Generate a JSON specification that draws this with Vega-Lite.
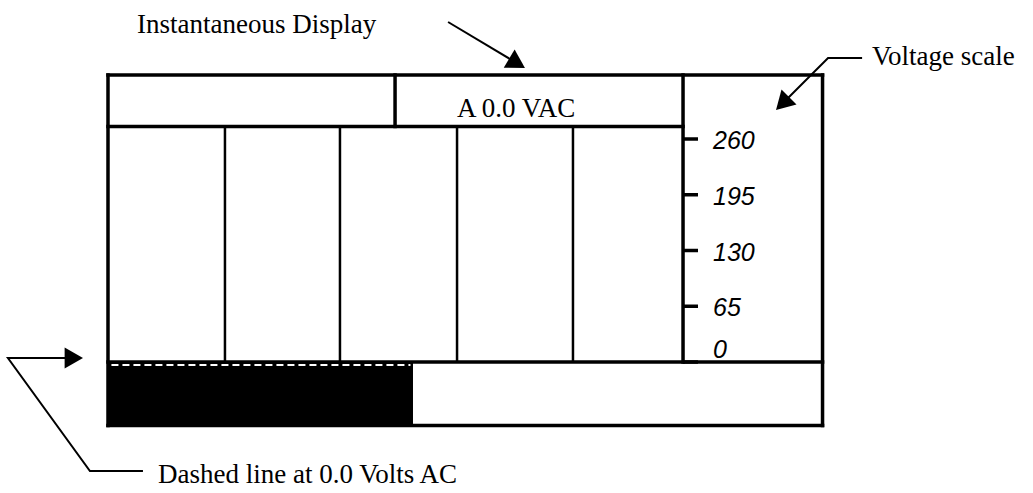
{
  "$schema": "https://vega.github.io/schema/vega-lite/v6.json",
  "width": 1033,
  "height": 493,
  "autosize": {"type": "fit", "contains": "padding"},
  "padding": 0,
  "background": "white",
  "config": {"view": {"stroke": null}},
  "datasets": {
    "bar": [{"part": "0.0 VAC bar", "x": 0, "x2": 2.652, "v": 0, "v2": -74}],
    "dash": [{"part": "0.0 V dashed line", "x": 0.03, "x2": 2.63, "v": -3.5}],
    "frame": [
      {"part": "top", "x": 0, "x2": 6.213, "v": 334.6, "v2": 334.6},
      {"part": "bottom", "x": 0, "x2": 6.213, "v": -74, "v2": -74},
      {"part": "left", "x": 0, "x2": 0, "v": 334.6, "v2": -74},
      {"part": "right", "x": 6.213, "x2": 6.213, "v": 334.6, "v2": -74},
      {"part": "header bottom", "x": 0, "x2": 5, "v": 274.6, "v2": 274.6},
      {"part": "header divider", "x": 2.496, "x2": 2.496, "v": 334.6, "v2": 274.6},
      {"part": "scale line", "x": 5, "x2": 5, "v": 334.6, "v2": 0},
      {"part": "zero line", "x": 0, "x2": 6.213, "v": 0, "v2": 0}
    ],
    "grid": [
      {"division": 1, "x": 1.017, "v": 274.6, "v2": 0},
      {"division": 2, "x": 2.017, "v": 274.6, "v2": 0},
      {"division": 3, "x": 3.035, "v": 274.6, "v2": 0},
      {"division": 4, "x": 4.043, "v": 274.6, "v2": 0}
    ],
    "ticks": [
      {"v": 0, "label": "0"},
      {"v": 65, "label": "65"},
      {"v": 130, "label": "130"},
      {"v": 195, "label": "195"},
      {"v": 260, "label": "260"}
    ],
    "leaders": [
      {"path": "display", "i": 0, "x": 2.957, "v": 396.4},
      {"path": "display", "i": 1, "x": 3.557, "v": 348.3},
      {"path": "scale", "i": 0, "x": 6.557, "v": 354.4},
      {"path": "scale", "i": 1, "x": 6.261, "v": 354.4},
      {"path": "scale", "i": 2, "x": 5.865, "v": 301.4},
      {"path": "dashed", "i": 0, "x": 0.304, "v": -127.1},
      {"path": "dashed", "i": 1, "x": -0.157, "v": -127.1},
      {"path": "dashed", "i": 2, "x": -0.87, "v": 4.66},
      {"path": "dashed", "i": 3, "x": -0.297, "v": 4.66}
    ],
    "heads": [
      {"path": "display", "x": 3.557, "v": 348.3, "heading": 120.9},
      {"path": "scale", "x": 5.865, "v": 301.4, "heading": 225},
      {"path": "dashed", "x": -0.297, "v": 4.66, "heading": 90}
    ],
    "captions": [
      {"text": "Instantaneous Display", "x": 0.252, "v": 383.6},
      {"text": "Voltage scale", "x": 6.643, "v": 346.3},
      {"text": "Dashed line at 0.0 Volts AC", "x": 0.435, "v": -141.1},
      {"text": "A 0.0 VAC", "x": 3.035, "v": 285.6}
    ]
  },
  "layer": [
    {
      "data": {"name": "bar"},
      "mark": {"type": "rect", "color": "black"},
      "encoding": {
        "x": {"field": "x", "type": "quantitative", "scale": {"domain": [-0.939, 8.043], "nice": false, "zero": false}, "axis": null},
        "x2": {"field": "x2"},
        "y": {"field": "v", "type": "quantitative", "scale": {"domain": [-152.73, 422.06], "nice": false, "zero": false}, "axis": null},
        "y2": {"field": "v2"}
      }
    },
    {
      "data": {"name": "dash"},
      "mark": {"type": "rule", "color": "white", "strokeWidth": 2, "strokeDash": [7, 4]},
      "encoding": {
        "x": {"field": "x", "type": "quantitative"},
        "x2": {"field": "x2"},
        "y": {"field": "v", "type": "quantitative"}
      }
    },
    {
      "data": {"name": "frame"},
      "mark": {"type": "rule", "color": "black", "strokeWidth": 3.5, "strokeCap": "square"},
      "encoding": {
        "x": {"field": "x", "type": "quantitative"},
        "x2": {"field": "x2"},
        "y": {"field": "v", "type": "quantitative"},
        "y2": {"field": "v2"}
      }
    },
    {
      "data": {"name": "grid"},
      "mark": {"type": "rule", "color": "black", "strokeWidth": 2.5},
      "encoding": {
        "x": {"field": "x", "type": "quantitative"},
        "y": {"field": "v", "type": "quantitative"},
        "y2": {"field": "v2"}
      }
    },
    {
      "data": {"name": "ticks"},
      "mark": {"type": "rule", "color": "black", "strokeWidth": 3.5},
      "encoding": {
        "x": {"datum": 5, "type": "quantitative"},
        "x2": {"datum": 5.13},
        "y": {"field": "v", "type": "quantitative"}
      }
    },
    {
      "data": {"name": "leaders"},
      "mark": {"type": "line", "color": "black", "strokeWidth": 2},
      "encoding": {
        "x": {"field": "x", "type": "quantitative"},
        "y": {"field": "v", "type": "quantitative"},
        "detail": {"field": "path"},
        "order": {"field": "i", "type": "quantitative"}
      }
    },
    {
      "data": {"name": "heads"},
      "mark": {"type": "point", "shape": "triangle-up", "filled": true, "color": "black", "opacity": 1, "size": 450},
      "encoding": {
        "x": {"field": "x", "type": "quantitative"},
        "y": {"field": "v", "type": "quantitative"},
        "angle": {"field": "heading", "type": "quantitative", "scale": null}
      }
    },
    {
      "data": {"name": "captions"},
      "mark": {"type": "text", "align": "left", "baseline": "alphabetic", "font": "Liberation Serif", "fontSize": 27, "color": "black"},
      "encoding": {
        "x": {"field": "x", "type": "quantitative"},
        "y": {"field": "v", "type": "quantitative"},
        "text": {"field": "text"}
      }
    },
    {
      "data": {"name": "ticks"},
      "transform": [{"filter": "datum.v > 0"}],
      "mark": {"type": "text", "align": "left", "baseline": "middle", "font": "Liberation Sans", "fontStyle": "italic", "fontSize": 25, "color": "black", "dy": 2},
      "encoding": {
        "x": {"datum": 5.261, "type": "quantitative"},
        "y": {"field": "v", "type": "quantitative"},
        "text": {"field": "label"}
      }
    },
    {
      "data": {"name": "ticks"},
      "transform": [{"filter": "datum.v == 0"}],
      "mark": {"type": "text", "align": "left", "baseline": "alphabetic", "font": "Liberation Sans", "fontStyle": "italic", "fontSize": 25, "color": "black", "dy": -4},
      "encoding": {
        "x": {"datum": 5.261, "type": "quantitative"},
        "y": {"field": "v", "type": "quantitative"},
        "text": {"field": "label"}
      }
    }
  ]
}
